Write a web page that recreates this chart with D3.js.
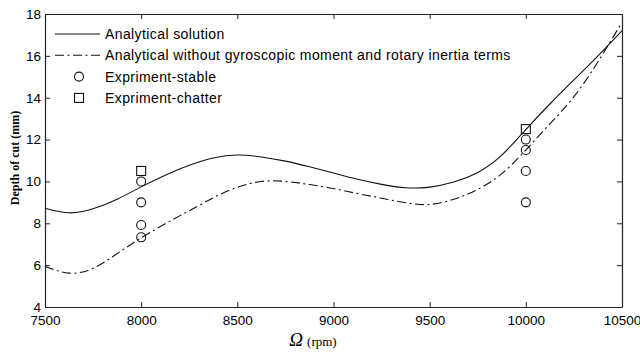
<!DOCTYPE html>
<html>
<head>
<meta charset="utf-8">
<script src="https://cdn.jsdelivr.net/npm/d3@7"></script>
<style>
  body { margin: 0; background: #fff; }
  svg { display: block; }
  .tick text { font-family: "Liberation Sans", Arial, sans-serif; font-size: 13.5px; fill: #000; }
</style>
</head>
<body>
<svg id="chart"></svg>
<script>
// spindle speed samples (rpm), read every 125 rpm
var speed = [7500, 7625, 7750, 7875, 8000, 8125, 8250, 8375, 8500, 8625, 8750, 8875, 9000,
             9125, 9250, 9375, 9500, 9625, 9750, 9875, 10000, 10125, 10250, 10375, 10500];
// depth of cut (mm)
var depthSolid = [8.72, 8.5, 8.69, 9.15, 9.74, 10.3, 10.77, 11.12, 11.26, 11.17, 10.97, 10.7, 10.4,
                  10.1, 9.86, 9.7, 9.73, 9.97, 10.43, 11.26, 12.48, 13.7, 14.85, 16.0, 17.2];
var depthDash = [5.95, 5.62, 5.85, 6.55, 7.3, 7.98, 8.6, 9.22, 9.72, 10.0, 10.0, 9.85, 9.66,
                 9.42, 9.2, 8.98, 8.9, 9.15, 9.62, 10.37, 11.5, 12.75, 14.05, 15.72, 17.6];

var stableSpeed = [8000, 8000, 8000, 8000, 10000, 10000, 10000, 10000];
var stableDepth = [10, 9, 7.92, 7.33, 12, 11.5, 10.5, 9];
var chatterSpeed = [8000, 10000];
var chatterDepth = [10.5, 12.5];

var xTicks = [7500, 8000, 8500, 9000, 9500, 10000, 10500];
var yTicks = [4, 6, 8, 10, 12, 14, 16, 18];

var legendLabels = ["Analytical solution",
                    "Analytical without gyroscopic moment and rotary inertia terms",
                    "Expriment-stable",
                    "Expriment-chatter"];

var W = 640, H = 352;
var margin = { top: 14, right: 18, bottom: 45, left: 45 };
var width = W - margin.left - margin.right,
    height = H - margin.top - margin.bottom;

var svg = d3.select("#chart").attr("width", W).attr("height", H);
var g = svg.append("g").attr("transform", "translate(" + margin.left + "," + margin.top + ")");

var x = d3.scaleLinear().domain([7500, 10500]).range([0, width]);
var y = d3.scaleLinear().domain([4, 18]).range([height, 0]);

// axes, ticks pointing inward on all four sides
g.append("g")
  .attr("transform", "translate(0," + height + ")")
  .call(d3.axisBottom(x).tickValues(xTicks).tickSizeInner(-5).tickSizeOuter(0).tickPadding(8).tickFormat(d3.format("d")));
g.append("g")
  .call(d3.axisTop(x).tickValues(xTicks).tickSizeInner(-5).tickSizeOuter(0).tickFormat(""));
g.append("g")
  .call(d3.axisLeft(y).tickValues(yTicks).tickSizeInner(-5).tickSizeOuter(0).tickPadding(4));
g.append("g")
  .attr("transform", "translate(" + width + ",0)")
  .call(d3.axisRight(y).tickValues(yTicks).tickSizeInner(-5).tickSizeOuter(0).tickFormat(""));

g.selectAll(".domain").attr("stroke", "#222").attr("stroke-width", 1.2);
g.selectAll(".tick line").attr("stroke", "#222");

var line = d3.line()
  .x(function (d) { return x(d[0]); })
  .y(function (d) { return y(d[1]); })
  .curve(d3.curveNatural);

g.append("path")
  .datum(d3.zip(speed, depthSolid))
  .attr("fill", "none")
  .attr("stroke", "#111")
  .attr("stroke-width", 1.1)
  .attr("d", line);

g.append("path")
  .datum(d3.zip(speed, depthDash))
  .attr("fill", "none")
  .attr("stroke", "#111")
  .attr("stroke-width", 1.1)
  .attr("stroke-dasharray", "9,3.5,2,3.5")
  .attr("d", line);

g.selectAll("circle.stable")
  .data(d3.zip(stableSpeed, stableDepth))
  .enter().append("circle")
  .attr("class", "stable")
  .attr("cx", function (d) { return x(d[0]); })
  .attr("cy", function (d) { return y(d[1]); })
  .attr("r", 4.5)
  .attr("fill", "none")
  .attr("stroke", "#111")
  .attr("stroke-width", 1.1);

g.selectAll("rect.chatter")
  .data(d3.zip(chatterSpeed, chatterDepth))
  .enter().append("rect")
  .attr("class", "chatter")
  .attr("x", function (d) { return x(d[0]) - 4.5; })
  .attr("y", function (d) { return y(d[1]) - 4.5; })
  .attr("width", 9)
  .attr("height", 9)
  .attr("fill", "none")
  .attr("stroke", "#111")
  .attr("stroke-width", 1.1);

// legend
var leg = svg.append("g").attr("transform", "translate(55,34)");
var rowH = 21.3;
legendLabels.forEach(function (t, i) {
  var ly = i * rowH;
  if (i === 0) {
    leg.append("line").attr("x1", 0).attr("x2", 45).attr("y1", ly).attr("y2", ly)
      .attr("stroke", "#111").attr("stroke-width", 1.1);
  } else if (i === 1) {
    leg.append("line").attr("x1", 0).attr("x2", 45).attr("y1", ly).attr("y2", ly)
      .attr("stroke", "#111").attr("stroke-width", 1.1).attr("stroke-dasharray", "9,3.5,2,3.5");
  } else if (i === 2) {
    leg.append("circle").attr("cx", 24).attr("cy", ly).attr("r", 4.5)
      .attr("fill", "none").attr("stroke", "#111").attr("stroke-width", 1.1);
  } else {
    leg.append("rect").attr("x", 19.5).attr("y", ly - 4.5).attr("width", 9).attr("height", 9)
      .attr("fill", "none").attr("stroke", "#111").attr("stroke-width", 1.1);
  }
  leg.append("text")
    .attr("x", 50).attr("y", ly)
    .attr("dy", "0.35em")
    .style("font-family", "Liberation Sans, Arial, sans-serif")
    .style("font-size", "14px")
    .style("letter-spacing", "0.4px")
    .text(t);
});

// axis titles
svg.append("text")
  .attr("transform", "translate(15,158) rotate(-90)")
  .attr("text-anchor", "middle")
  .attr("dy", "0.35em")
  .style("font-family", "Liberation Serif, Times New Roman, serif")
  .style("font-weight", "bold")
  .style("font-size", "12px")
  .text("Depth of cut (mm)");

var xl = svg.append("text")
  .attr("x", 313)
  .attr("y", 346)
  .attr("text-anchor", "middle")
  .style("font-family", "Liberation Serif, Times New Roman, serif");
xl.append("tspan").style("font-style", "italic").style("font-size", "19px").text("Ω");
xl.append("tspan").style("font-size", "13px").attr("dx", 4).text("(rpm)");
</script>
</body>
</html>
